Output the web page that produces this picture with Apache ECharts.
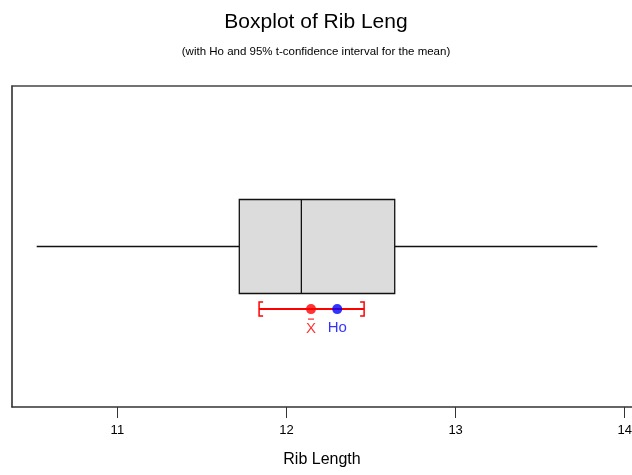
<!DOCTYPE html>
<html>
<head>
<meta charset="utf-8">
<script src="https://cdn.jsdelivr.net/npm/echarts@6/dist/echarts.min.js"></script>
<style>html,body{margin:0;padding:0;background:#fff}#c{width:632px;height:475px}</style>
</head>
<body>
<div id="c"></div>
<script>
// Data
var category = ['Rib Length'];
var boxStats = [10.523, 11.721, 12.088, 12.640, 13.838]; // min, Q1, median, Q3, max
var ciBounds = [11.838, 12.459];   // 95% t-confidence interval for the mean
var meanValue = 12.145;
var hoValue = 12.30;
var boxLevel = 0.5;                // vertical level of the box row (hidden axis 0..1)
var ciLevel = 0.305;               // vertical level of the CI row
var tickValues = [11, 12, 13, 14];
var xRange = [10.377, 14.043];

var FONT = '"Liberation Sans", Arial, sans-serif';
var chart = echarts.init(document.getElementById('c'), null, {renderer: 'canvas'});

chart.setOption({
  animation: false,
  backgroundColor: '#fff',
  title: [{
    text: 'Boxplot of Rib Leng',
    left: 'center', top: 7,
    textStyle: {fontFamily: FONT, fontSize: 21, fontWeight: 'normal', color: '#000'}
  }, {
    text: '(with Ho and 95% t-confidence interval for the mean)',
    left: 'center', top: 41,
    textStyle: {fontFamily: FONT, fontSize: 11.5, fontWeight: 'normal', color: '#000'}
  }],
  grid: {
    left: 12, right: 0, top: 86, bottom: 68,
    outerBoundsMode: 'none', containLabel: false,
    show: false
  },
  xAxis: [{
    type: 'value', min: xRange[0], max: xRange[1], position: 'bottom',
    name: 'Rib Length', nameLocation: 'middle', nameGap: 45,
    nameTextStyle: {fontFamily: FONT, fontSize: 16, color: '#000'},
    axisLine: {show: true, onZero: false, lineStyle: {color: '#333', width: 1.5}},
    axisTick: {show: true, length: 11, customValues: tickValues, lineStyle: {color: '#333', width: 1}},
    axisLabel: {fontFamily: FONT, fontSize: 13, color: '#000', margin: 17, customValues: tickValues},
    splitLine: {show: false}
  }, {
    type: 'value', min: xRange[0], max: xRange[1], position: 'top',
    axisLine: {show: true, onZero: false, lineStyle: {color: '#444', width: 1.5}},
    axisTick: {show: false}, axisLabel: {show: false}, splitLine: {show: false}
  }],
  yAxis: [{
    type: 'value', min: 0, max: 1, position: 'left',
    axisLine: {show: true, onZero: false, lineStyle: {color: '#222', width: 1.5}},
    axisTick: {show: false}, axisLabel: {show: false}, splitLine: {show: false}
  }],
  series: [{
    type: 'custom',
    name: category[0],
    renderItem: function (params, api) {
      var y = api.value(5);
      var pMin = api.coord([api.value(0), y]);
      var pQ1 = api.coord([api.value(1), y]);
      var pMed = api.coord([api.value(2), y]);
      var pQ3 = api.coord([api.value(3), y]);
      var pMax = api.coord([api.value(4), y]);
      var half = 47;
      var ln = {stroke: '#111', lineWidth: 1.3};
      return {
        type: 'group',
        children: [
          {type: 'line', shape: {x1: pMin[0], y1: pMin[1], x2: pQ1[0], y2: pQ1[1]}, style: ln},
          {type: 'line', shape: {x1: pQ3[0], y1: pQ3[1], x2: pMax[0], y2: pMax[1]}, style: ln},
          {type: 'rect', shape: {x: pQ1[0], y: pQ1[1] - half, width: pQ3[0] - pQ1[0], height: 2 * half},
            style: {fill: '#dcdcdc', stroke: '#111', lineWidth: 1.3}},
          {type: 'line', shape: {x1: pMed[0], y1: pMed[1] - half, x2: pMed[0], y2: pMed[1] + half}, style: ln}
        ]
      };
    },
    data: [boxStats.concat([boxLevel])],
    z: 2
  }, {
    type: 'custom',
    renderItem: function (params, api) {
      var p1 = api.coord([api.value(0), api.value(2)]);
      var p2 = api.coord([api.value(1), api.value(2)]);
      var h = 7, s = 4;
      var st = {stroke: '#ff0000', lineWidth: 2, fill: null};
      var bs = {stroke: '#ff0000', lineWidth: 1.5, fill: null};
      return {
        type: 'group',
        children: [
          {type: 'line', shape: {x1: p1[0], y1: p1[1], x2: p2[0], y2: p2[1]}, style: st},
          {type: 'polyline', shape: {points: [[p1[0] + s, p1[1] - h], [p1[0], p1[1] - h], [p1[0], p1[1] + h], [p1[0] + s, p1[1] + h]]}, style: bs},
          {type: 'polyline', shape: {points: [[p2[0] - s, p2[1] - h], [p2[0], p2[1] - h], [p2[0], p2[1] + h], [p2[0] - s, p2[1] + h]]}, style: bs}
        ]
      };
    },
    data: [[ciBounds[0], ciBounds[1], ciLevel]],
    z: 3
  }, {
    type: 'scatter',
    symbol: 'circle', symbolSize: 10,
    itemStyle: {color: '#ff0000'},
    label: {
      show: true, position: 'bottom', distance: 3,
      formatter: '{o| }\n{x|X}',
      rich: {
        o: {fontSize: 1, width: 6, height: 1.3, lineHeight: 4, backgroundColor: '#ff0000', align: 'center'},
        x: {fontFamily: FONT, fontSize: 15, color: '#ff0000', lineHeight: 15, align: 'center'}
      }
    },
    data: [[meanValue, ciLevel]],
    z: 5
  }, {
    type: 'scatter',
    symbol: 'circle', symbolSize: 10,
    itemStyle: {color: '#0000ff'},
    label: {
      show: true, position: 'bottom', distance: 6,
      formatter: 'Ho',
      fontFamily: FONT, fontSize: 15, color: '#0000ff'
    },
    data: [[hoValue, ciLevel]],
    z: 5
  }]
});
</script>
</body>
</html>
